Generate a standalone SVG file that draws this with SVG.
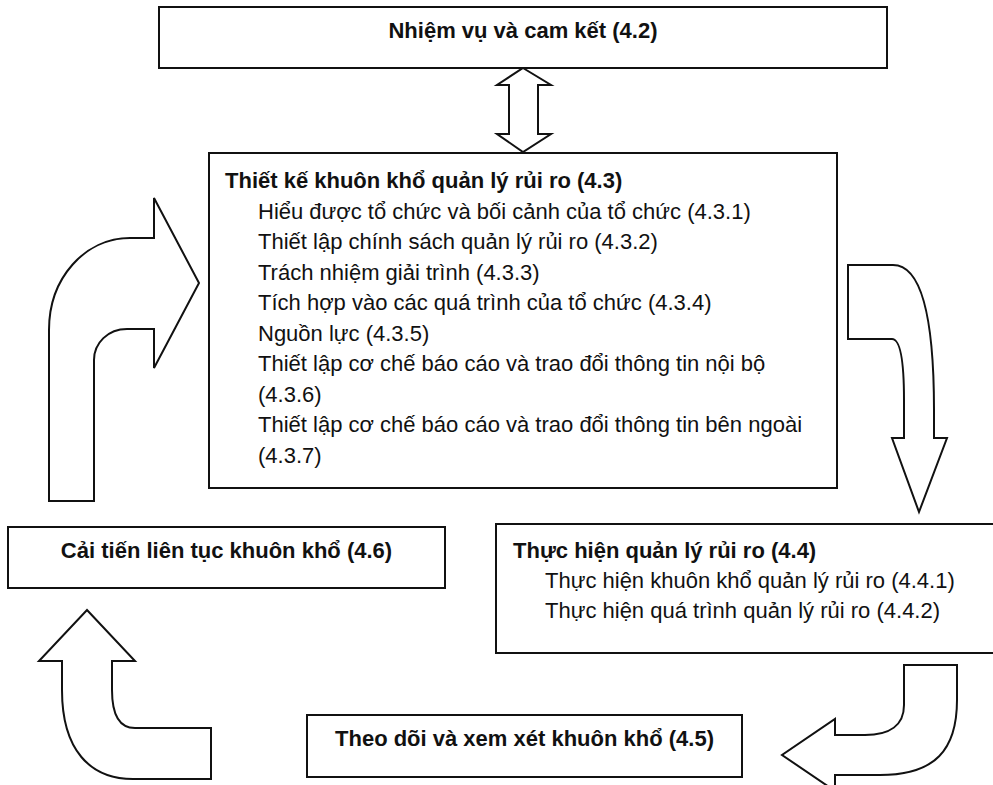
<svg xmlns="http://www.w3.org/2000/svg" width="993" height="785" viewBox="0 0 993 785">
<style>
.box{fill:#fff;stroke:#111;stroke-width:2}
.arr{fill:#fff;stroke:#111;stroke-width:2;stroke-linejoin:miter}
text{font-family:"Liberation Sans",Arial,sans-serif;font-size:22px;fill:#111}
.b{font-weight:bold}
.c{text-anchor:middle}
</style>
<rect x="0" y="0" width="993" height="785" fill="#fff"/>
<g id="connectors">
<path class="arr" d="M523 68 L551 85 L538 85 L538 134 L551 134 L523 152 L497 134 L509 134 L509 85 L497 85 Z"/>
<path class="arr" d="M49 501 L49 330 C49 278 85 238 130 238 L154 238 L154 198 L199 283 L154 368 L154 329 L127 329 C108 329 94 343 94 360 L94 501 Z"/>
<path class="arr" d="M848 265 L893 265 C925 265 934 330 934 410 L934 438 L947 438 L919 512 L892 438 L904 438 L904 400 C904 360 900 339 892 339 L848 339 Z"/>
<path class="arr" d="M904 665 L957 665 L957 700 C957 750 935 775 880 775 L835 775 L835 791 L782 755 L835 719 L835 735 L865 735 C890 735 904 725 904 705 Z"/>
<path class="arr" d="M87 610 L135 661 L112 661 L112 690 C112 712 118 728 135 728 L211 728 L211 779 L133 779 C90 779 62 750 62 690 L62 661 L39 661 Z"/>
</g>
<g id="n42">
<rect class="box" x="159" y="7" width="728" height="61"/>
<text class="b c" x="523" y="38">Nhiệm vụ và cam kết (4.2)</text>
</g>
<g id="n43">
<rect class="box" x="209" y="153" width="628" height="335"/>
<text class="b" x="225" y="188">Thiết kế khuôn khổ quản lý rủi ro (4.3)</text>
<text x="258" y="218.5">Hiểu được tổ chức và bối cảnh của tổ chức (4.3.1)</text>
<text x="258" y="249">Thiết lập chính sách quản lý rủi ro (4.3.2)</text>
<text x="258" y="279.5">Trách nhiệm giải trình (4.3.3)</text>
<text x="258" y="310">Tích hợp vào các quá trình của tổ chức (4.3.4)</text>
<text x="258" y="340.5">Nguồn lực (4.3.5)</text>
<text x="258" y="371">Thiết lập cơ chế báo cáo và trao đổi thông tin nội bộ</text>
<text x="258" y="401.5">(4.3.6)</text>
<text x="258" y="432">Thiết lập cơ chế báo cáo và trao đổi thông tin bên ngoài</text>
<text x="258" y="462.5">(4.3.7)</text>
</g>
<g id="n44">
<rect class="box" x="496" y="524" width="510" height="129"/>
<text class="b" x="513" y="558">Thực hiện quản lý rủi ro (4.4)</text>
<text x="545" y="588">Thực hiện khuôn khổ quản lý rủi ro (4.4.1)</text>
<text x="545" y="618">Thực hiện quá trình quản lý rủi ro (4.4.2)</text>
</g>
<g id="n45">
<rect class="box" x="307" y="715" width="435" height="62"/>
<text class="b c" x="524.5" y="746">Theo dõi và xem xét khuôn khổ (4.5)</text>
</g>
<g id="n46">
<rect class="box" x="8" y="527" width="437" height="61"/>
<text class="b c" x="226.5" y="558">Cải tiến liên tục khuôn khổ (4.6)</text>
</g>
</svg>
